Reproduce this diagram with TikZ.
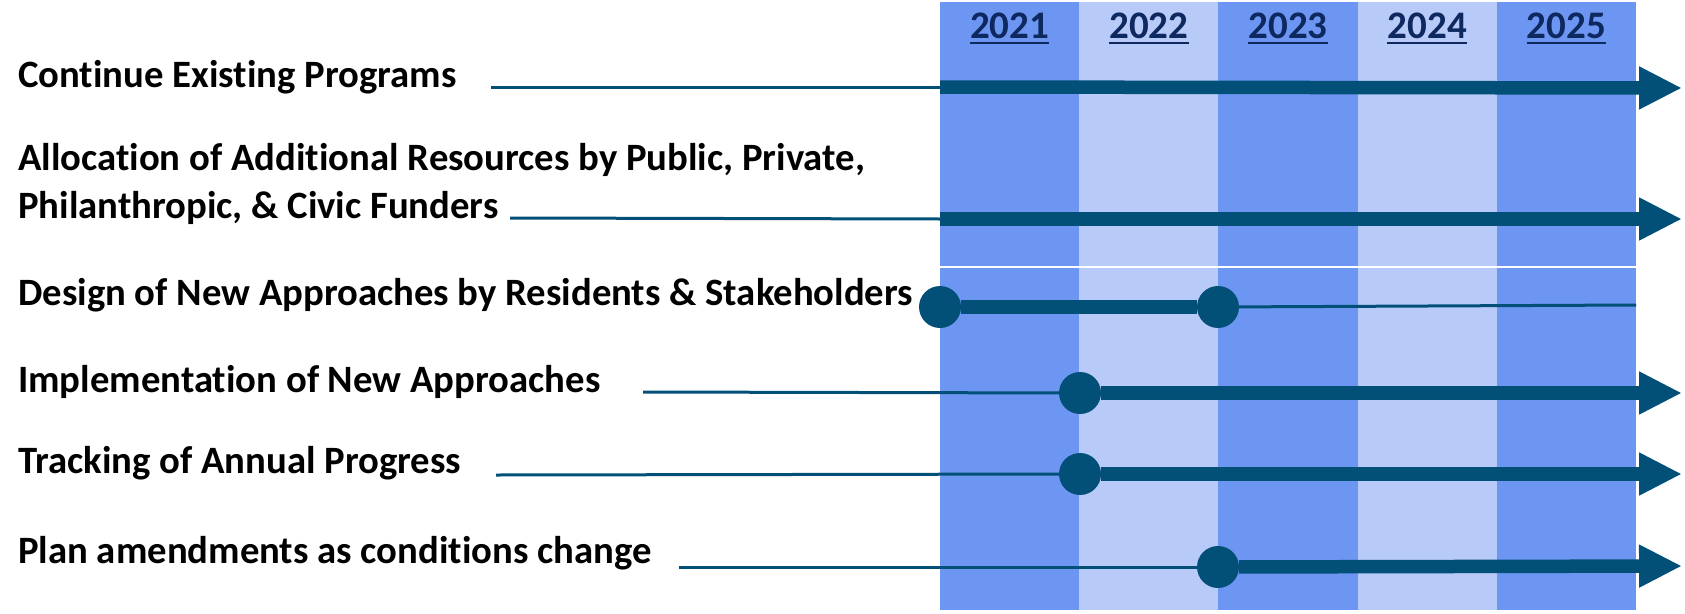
\documentclass[tikz,border=0pt]{standalone}
\usepackage{fontspec}
\setmainfont{Carlito}[Ligatures=NoCommon]
\usetikzlibrary{positioning,arrows.meta}
\usepackage{xcolor}
\definecolor{bandDark}{RGB}{109,150,242}
\definecolor{bandLight}{RGB}{184,202,248}
\definecolor{lineBlue}{RGB}{2,80,120}
\definecolor{yearBlue}{RGB}{14,40,96}
\tikzset{
    task/.style = {
        anchor = base west,
        inner sep = 0pt,
        font = \fontsize{38.7}{48}\selectfont\bfseries,
    },
    year/.style = {
        anchor = base,
        inner sep = 0pt,
        text = yearBlue,
        font = \fontsize{39}{44}\selectfont\bfseries,
    },
    milestone/.style = {
        circle,
        fill = lineBlue,
        minimum size = 42pt,
        inner sep = 0pt,
    },
    lead/.style = {draw=lineBlue, line width=3pt},
    bar/.style = {draw=lineBlue, line width=13.5pt},
    ongoing/.style = {bar, -{Triangle[length=43pt,width=40pt]}},
}

\begin{document}
\begin{tikzpicture}[x=1pt,y=-1pt]
    \useasboundingbox (0,0) rectangle (1685,613);

    % year columns
    \foreach \i/\c/\yr in {0/bandDark/2021,1/bandLight/2022,2/bandDark/2023,3/bandLight/2024,4/bandDark/2025} {
        \fill[\c] (940+139.2*\i,2) rectangle ++(139.2,608);
        \node[year] (Y\yr) at (1009.6+139.2*\i,38) {\yr};
        \draw[yearBlue,line width=2.5pt] ([yshift=-5pt]Y\yr.base west) -- ([yshift=-5pt]Y\yr.base east);
    }
    \draw[white,line width=1.5pt] (940,267) -- (1636,267);

    % tasks
    \node[task] (Continue) at (18,87) {Continue Existing Programs};
    \node[task] (Allocation) at (18,170) {Allocation of Additional Resources by Public, Private,};
    \node[task] (Funders) at (18,218) {Philanthropic, \& Civic Funders};
    \node[task] (Design) at (18,305) {Design of New Approaches by Residents \& Stakeholders};
    \node[task] (Implement) at (18,392) {Implementation of New Approaches};
    \node[task] (Tracking) at (18,473) {Tracking of Annual Progress};
    \node[task] (Amend) at (18,563) {Plan amendments as conditions change};

    % start and end points
    \coordinate (ContinueA) at (491,87);
    \coordinate (ContinueB) at (940,87);
    \coordinate (ContinueC) at (1682,88);
    \coordinate (FundersA) at (510,218);
    \coordinate (FundersB) at (940,219);
    \coordinate (FundersC) at (1682,219);
    \coordinate (DesignEnd) at (1636,305);
    \coordinate (ImplementA) at (643,392);
    \coordinate (ImplementC) at (1682,393);
    \coordinate (TrackingA) at (496,475);
    \coordinate (TrackingC) at (1682,474);
    \coordinate (AmendA) at (679,567);
    \coordinate (AmendC) at (1682,566);

    \node[milestone] (DesignStart) at (940,307) {};
    \node[milestone] (DesignDone) at (1218,307) {};
    \node[milestone] (ImplementStart) at (1080,393) {};
    \node[milestone] (TrackingStart) at (1080,474) {};
    \node[milestone] (AmendStart) at (1218,567) {};

    \draw[lead] (ContinueA) to (ContinueB);
    \draw[ongoing] (ContinueB) to (ContinueC);

    \draw[lead] (FundersA) to (FundersB);
    \draw[ongoing] (FundersB) to (FundersC);

    \draw[bar] (DesignStart) to (DesignDone);
    \draw[lead] (DesignDone) to (DesignEnd);

    \draw[lead] (ImplementA) to (ImplementStart);
    \draw[ongoing] (ImplementStart) to (ImplementC);

    \draw[lead] (TrackingA) to (TrackingStart);
    \draw[ongoing] (TrackingStart) to (TrackingC);

    \draw[lead] (AmendA) to (AmendStart);
    \draw[ongoing] (AmendStart) to (AmendC);

\end{tikzpicture}
\end{document}
